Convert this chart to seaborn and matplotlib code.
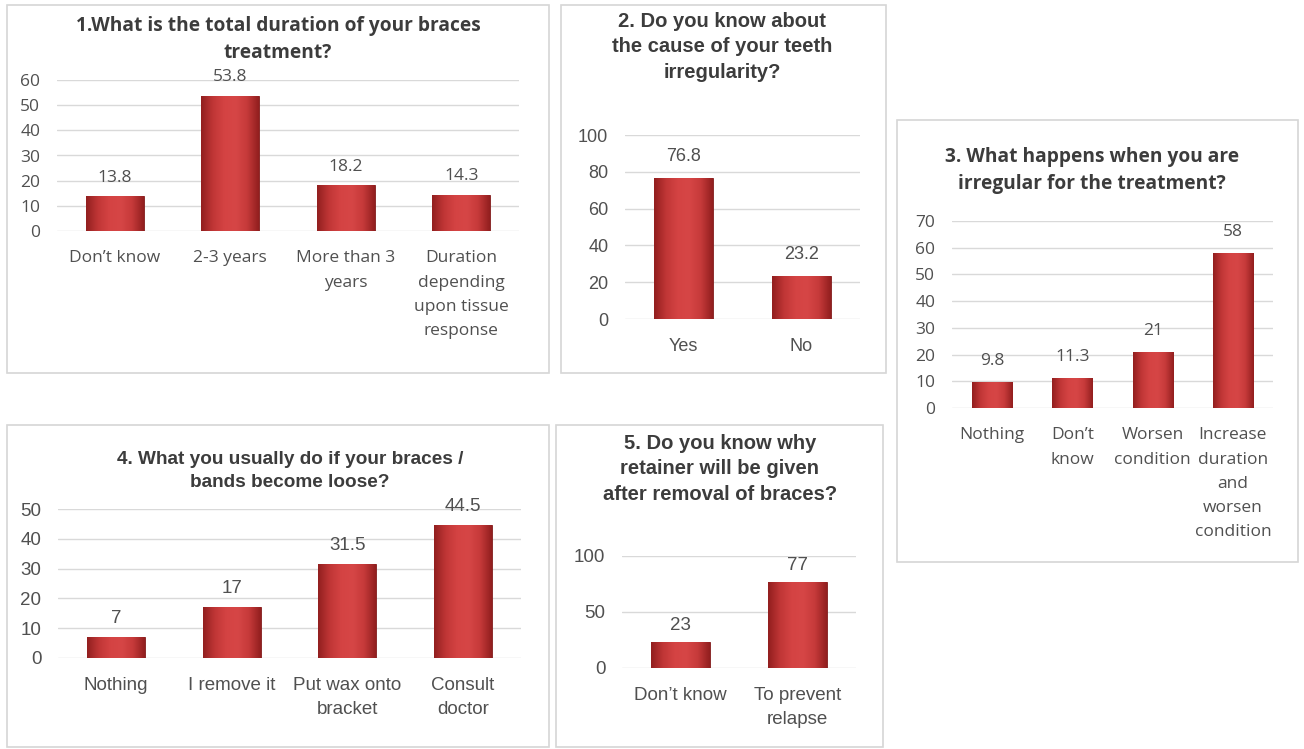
import matplotlib
matplotlib.use("Agg")
import matplotlib.pyplot as plt
import matplotlib.patches as mpatches
from matplotlib.colors import LinearSegmentedColormap
import seaborn as sns
import numpy as np

# ---- data ----
q1_title = "1.What is the total duration of your braces\ntreatment?"
q1_cats = ["Don\u2019t know", "2-3 years", "More than 3\nyears",
           "Duration\ndepending\nupon tissue\nresponse"]
q1_vals = [13.8, 53.8, 18.2, 14.3]
q1_ticks = [0, 10, 20, 30, 40, 50, 60]

q2_title = "2. Do you know about\nthe cause of your teeth\nirregularity?"
q2_cats = ["Yes", "No"]
q2_vals = [76.8, 23.2]
q2_ticks = [0, 20, 40, 60, 80, 100]

q3_title = "3. What happens when you are\nirregular for the treatment?"
q3_cats = ["Nothing", "Don\u2019t\nknow", "Worsen\ncondition",
           "Increase\nduration\nand\nworsen\ncondition"]
q3_vals = [9.8, 11.3, 21, 58]
q3_ticks = [0, 10, 20, 30, 40, 50, 60, 70]

q4_title = "4. What you usually do if your braces /\nbands become loose?"
q4_cats = ["Nothing", "I remove it", "Put wax onto\nbracket", "Consult\ndoctor"]
q4_vals = [7, 17, 31.5, 44.5]
q4_ticks = [0, 10, 20, 30, 40, 50]

q5_title = "5. Do you know why\nretainer will be given\nafter removal of braces?"
q5_cats = ["Don\u2019t know", "To prevent\nrelapse"]
q5_vals = [23, 77]
q5_ticks = [0, 50, 100]

W, H = 1304, 749
sns.set_theme(style="white")
fig = plt.figure(figsize=(W / 100, H / 100), dpi=100)
fig.patch.set_facecolor("white")

TXT = "#505050"
TTL = "#3C3C3C"
WIDE = ["Open Sans", "DejaVu Sans"]
NARROW = ["Liberation Sans", "DejaVu Sans"]

bar_cmap = LinearSegmentedColormap.from_list(
    "bevel", ["#931F1F", "#C03636", "#D44343", "#D64646", "#C63A3A", "#931F1F"])


def box(x0, y0, x1, y1):
    fig.patches.append(mpatches.Rectangle(
        (x0 / W, 1 - y1 / H), (x1 - x0) / W, (y1 - y0) / H,
        transform=fig.transFigure, fill=False, ec="#D6D6D6", lw=1.2))


def panel(x0, x1, ytop, ybot, cats, vals, ticks, title, tx, tty,
          fam, tsize, lsize, tlsp, xlsp):
    ax = fig.add_axes([x0 / W, 1 - ybot / H, (x1 - x0) / W, (ybot - ytop) / H])
    sns.barplot(x=cats, y=vals, ax=ax, color="#C83A3A", width=0.5,
                edgecolor="#7E1A1A", linewidth=0.6, saturation=1)
    # bevel-ish shading clipped to each bar
    grad = np.linspace(0, 1, 64).reshape(1, -1)
    for p in list(ax.patches):
        bb = p.get_bbox()
        im = ax.imshow(grad, extent=[bb.x0, bb.x1, bb.y0, bb.y1],
                       aspect="auto", cmap=bar_cmap, zorder=p.get_zorder() + 0.1)
        im.set_clip_path(p)
    for p, v in zip(ax.patches, vals):
        ax.text(p.get_x() + p.get_width() / 2, v + ticks[-1] * 0.07,
                f"{v:g}", ha="center", va="bottom", color=TXT,
                fontsize=lsize, family=fam)
    ax.set_xlim(-0.5, len(cats) - 0.5)
    ax.set_ylim(0, ticks[-1])
    ax.set_yticks(ticks)
    ax.set_xticks(range(len(cats)))
    ax.set_xticklabels(cats, linespacing=xlsp)
    ax.yaxis.grid(True, color="#D9D9D9", lw=1)
    ax.set_axisbelow(True)
    for s in ax.spines.values():
        s.set_visible(False)
    ax.tick_params(axis="both", length=0, colors=TXT, labelsize=lsize)
    ax.tick_params(axis="x", pad=14)
    ax.tick_params(axis="y", pad=12)
    for lab in ax.get_xticklabels() + ax.get_yticklabels():
        lab.set_family(fam)
    ax.set_xlabel("")
    ax.set_facecolor("none")
    fig.text(tx / W, 1 - tty / H, title, ha="center", va="top",
             fontsize=tsize, fontweight="bold", color=TTL, family=fam,
             linespacing=tlsp)
    return ax


box(7, 5, 549, 373)
box(561, 5, 886, 373)
box(897, 120, 1298, 562)
box(7, 425, 549, 747)
box(556, 425, 883, 747)

panel(57, 519, 80, 231, q1_cats, q1_vals, q1_ticks, q1_title, 278, 16,
      WIDE, 13.8, 12.5, 1.45, 1.68)
panel(625, 860, 135, 319, q2_cats, q2_vals, q2_ticks, q2_title, 722, 12,
      NARROW, 14.5, 13, 1.42, 1.6)
panel(952, 1273, 221, 408, q3_cats, q3_vals, q3_ticks, q3_title, 1092, 147,
      WIDE, 13.8, 12.5, 1.45, 1.68)
panel(58, 521, 509, 658, q4_cats, q4_vals, q4_ticks, q4_title, 290, 451,
      NARROW, 13.7, 13.5, 1.45, 1.53)
panel(622, 856, 556, 668, q5_cats, q5_vals, q5_ticks, q5_title, 720, 434,
      NARROW, 14.5, 13.5, 1.42, 1.53)

fig.savefig("out.png", dpi=100, facecolor="white")
